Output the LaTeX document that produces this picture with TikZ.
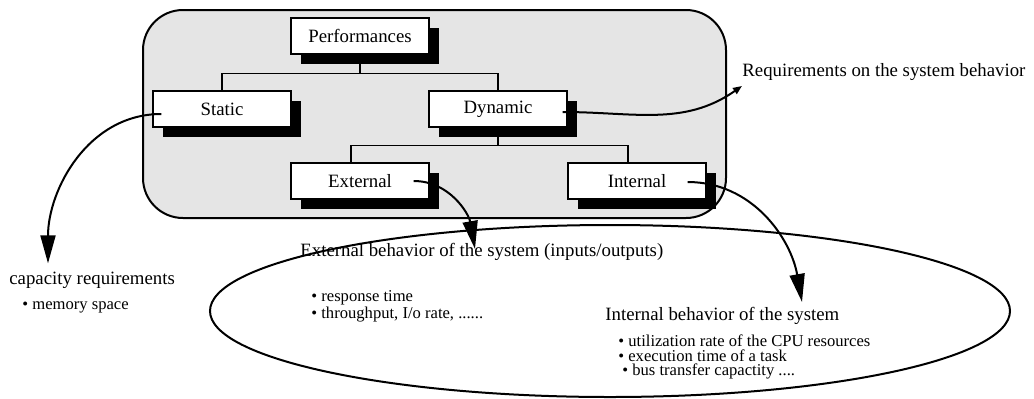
\documentclass[tikz,border=0pt]{standalone}
\usepackage{fontspec}
\setmainfont{Liberation Serif}
\usetikzlibrary{arrows.meta,calc,positioning,shadows,shapes.geometric}
\tikzstyle{blk}=[draw,fill=white,line width=0.7pt,minimum width=69pt,minimum height=18pt,inner sep=0pt,text centered,drop shadow={shadow xshift=5pt,shadow yshift=-5pt,fill=black,opacity=1}]
\tikzstyle{lbl}=[inner sep=0pt,anchor=west,font=\fontsize{9.4}{11}\selectfont]
\tikzstyle{itm}=[inner sep=0pt,anchor=west,align=left,font=\fontsize{8.3}{7.3}\selectfont]
\tikzstyle{arr}=[line width=1pt,-{Triangle[length=14pt,width=7.5pt]}]

\begin{document}
\begin{tikzpicture}[x=0.5pt,y=-0.5pt,font=\fontsize{9.4}{11}\selectfont]
    \useasboundingbox (0,0) rectangle (1034,398);
    % performance tree
    \draw[line width=1pt,fill=black!10,rounded corners=20pt] (143,10) rectangle (726,218);
    \node [blk] (perf) at (360,36) {Performances};
    \node [blk] (stat) [node distance=36.5pt,below of=perf,xshift=-69pt] {Static};
    \node [blk] (dyn)  [node distance=36.5pt,below of=perf,xshift=69pt] {Dynamic};
    \node [blk] (ext)  [node distance=36pt,below of=dyn,xshift=-69pt] {External};
    \node [blk] (int)  [node distance=36pt,below of=dyn,xshift=69.5pt] {Internal};

    \draw[line width=0.7pt] (perf.south) -- ++(0,-9.5pt) coordinate (fk1);
    \draw[line width=0.7pt] (stat.north) |- (fk1) -| (dyn.north);
    \draw[line width=0.7pt] (dyn.south) -- ++(0,-9pt) coordinate (fk2);
    \draw[line width=0.7pt] ([xshift=-4.5pt]ext.north) |- (fk2) -| ([xshift=-4.5pt]int.north);

    % behaviours
    \draw[line width=1pt] (610,311) ellipse [x radius=200pt,y radius=43pt];
    \node [lbl] (req)  at (742,72) {Requirements on the system behavior};
    \node [lbl] (cap)  at (9,280) {capacity requirements};
    \node [itm] (capl) at (22,307) {\textbullet\ memory space};
    \node [lbl] (extb) at (300,252) {External behavior of the system (inputs/outputs)};
    \node [itm] (extl) at (311,306) {\textbullet\ response time\\\textbullet\ throughput, I/o rate, ......};
    \node [lbl] (intb) at (605,316) {Internal behavior of the system};
    \node [itm] (intl) at (618,357) {\textbullet\ utilization rate of the CPU resources\\\textbullet\ execution time of a task\\\hspace{2pt}\textbullet\ bus transfer capactity ....};

    \draw[arr] ([xshift=4.5pt,yshift=-2.5pt]stat.west) to[out=180,in=90] ([xshift=19.5pt,yshift=4pt]cap.north west);
    \draw[line width=1pt,-{Triangle[length=4.5pt,width=3.5pt]}] ([xshift=-2.5pt,yshift=-1.5pt]dyn.east) to[out=0,in=215] ([yshift=-2.5pt]req.south west);
    \draw[arr] ([xshift=-8pt]ext.east) to[out=0,in=100] ([xshift=87.5pt,yshift=-3pt]extb.north west);
    \draw[arr] ([xshift=-9.5pt,yshift=-0.5pt]int.east) to[out=0,in=100] ([xshift=98.5pt,yshift=2.5pt]intb.north west);
\end{tikzpicture}
\end{document}
